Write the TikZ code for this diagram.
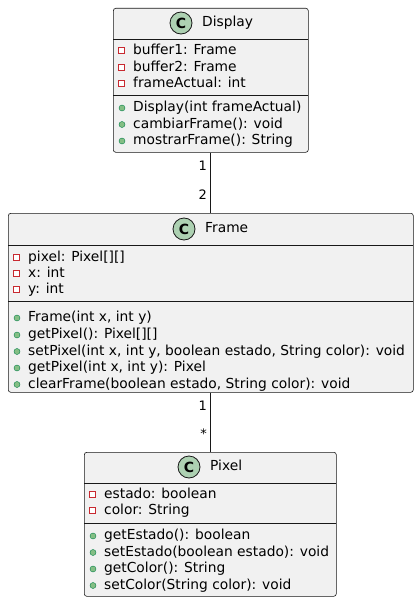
\documentclass[tikz,border=0pt]{standalone}
\usepackage{fontspec}
\setmainfont{DejaVu Sans}
\definecolor{umlborder}{HTML}{181818}
\definecolor{umlfill}{HTML}{F1F1F1}
\definecolor{spotfill}{HTML}{ADD1B2}
\definecolor{privred}{HTML}{C82930}
\definecolor{pubgreen}{HTML}{84BE84}
\definecolor{pubdark}{HTML}{038048}
\tikzset{
  classbox/.style={draw=umlborder, fill=umlfill, rounded corners=2.5pt, line width=0.6pt, inner sep=0pt, anchor=north west},
  member/.style={anchor=west, inner sep=0pt, text height=10pt, text depth=3pt, font=\fontsize{13.8}{16}\selectfont},
  title/.style={member},
  privsq/.style={draw=privred, fill=white, line width=1pt},
  pub/.style={circle, fill=pubgreen, draw=pubdark, line width=0.4pt, minimum size=6pt, inner sep=0pt},
  spot/.style={circle, fill=spotfill, draw=umlborder, line width=0.8pt, minimum size=22pt, inner sep=0pt, font=\fontsize{14}{14}\selectfont\bfseries},
  divider/.style={draw=umlborder, line width=0.6pt},
  conn/.style={draw=umlborder, line width=0.8pt},
  mult/.style={anchor=east, inner sep=0pt, text height=10pt, text depth=3pt, font=\fontsize{13}{15}\selectfont}
}
\newcommand{\privicon}[2]{\draw[privsq] (#1-2.5,#2-2.5) rectangle (#1+3.5,#2+3.5);}
\begin{document}
\begin{tikzpicture}[x=1pt,y=-1pt]
\useasboundingbox (0,0) rectangle (420,602);
\fill[white] (0,0) rectangle (420,602);

% ---------- Display ----------
\node[classbox, minimum width=195pt, minimum height=144pt] (display) at (113,8) {};
\node[spot] (dspot) at (181,23) {C};
\node[title] (dtitle) at (202,23) {Display};
\draw[divider] (113,39) -- (308,39);
\draw[divider] (113,95) -- (308,95);
\privicon{121}{50}
\node[member] (da1) at (133,51) {buffer1: Frame};
\privicon{121}{67}
\node[member] (da2) at (133,67.5) {buffer2: Frame};
\privicon{121}{83}
\node[member] (da3) at (133,84) {frameActual: int};
\node[pub] (dm1i) at (122,108) {};
\node[member] (dm1) at (133,108) {Display(int frameActual)};
\node[pub] (dm2i) at (122,124.5) {};
\node[member] (dm2) at (133,124.5) {cambiarFrame(): void};
\node[pub] (dm3i) at (122,141) {};
\node[member] (dm3) at (133,141) {mostrarFrame(): String};

% ---------- Frame ----------
\node[classbox, minimum width=405pt, minimum height=179pt] (frame) at (8,213) {};
\node[spot] (fspot) at (184,229) {C};
\node[title] (ftitle) at (205,229) {Frame};
\draw[divider] (8,245) -- (413,245);
\draw[divider] (8,301) -- (413,301);
\privicon{16}{257}
\node[member] (fa1) at (28,258) {pixel: Pixel[][]};
\privicon{16}{273}
\node[member] (fa2) at (28,274) {x: int};
\privicon{16}{289}
\node[member] (fa3) at (28,290) {y: int};
\node[pub] (fm1i) at (17,318) {};
\node[member] (fm1) at (28,318) {Frame(int x, int y)};
\node[pub] (fm2i) at (17,335) {};
\node[member] (fm2) at (28,335) {getPixel(): Pixel[][]};
\node[pub] (fm3i) at (17,351.5) {};
\node[member] (fm3) at (28,351.5) {setPixel(int x, int y, boolean estado, String color): void};
\node[pub] (fm4i) at (17,368) {};
\node[member] (fm4) at (28,368) {getPixel(int x, int y): Pixel};
\node[pub] (fm5i) at (17,384.5) {};
\node[member] (fm5) at (28,384.5) {clearFrame(boolean estado, String color): void};

% ---------- Pixel ----------
\node[classbox, minimum width=252pt, minimum height=144pt] (pixel) at (84,452) {};
\node[spot] (pspot) at (189,467) {C};
\node[title] (ptitle) at (210,467) {Pixel};
\draw[divider] (84,483) -- (336,483);
\draw[divider] (84,523) -- (336,523);
\privicon{92}{494}
\node[member] (pa1) at (104,494.5) {estado: boolean};
\privicon{92}{510}
\node[member] (pa2) at (104,511) {color: String};
\node[pub] (pm1i) at (93,536) {};
\node[member] (pm1) at (104,536) {getEstado(): boolean};
\node[pub] (pm2i) at (93,552.5) {};
\node[member] (pm2) at (104,552.5) {setEstado(boolean estado): void};
\node[pub] (pm3i) at (93,569) {};
\node[member] (pm3) at (104,569) {getColor(): String};
\node[pub] (pm4i) at (93,585.5) {};
\node[member] (pm4) at (104,585.5) {setColor(String color): void};

% ---------- connectors ----------
\draw[conn] (display.south) -- (display.south |- frame.north);
\draw[conn] (frame.south) -- (frame.south |- pixel.north);
\node[mult] (m1) at (207,167) {1};
\node[mult] (m2) at (207,196) {2};
\node[mult] (m3) at (207,407) {1};
\node[mult] (m4) at (207,435) {*};
\end{tikzpicture}
\end{document}
